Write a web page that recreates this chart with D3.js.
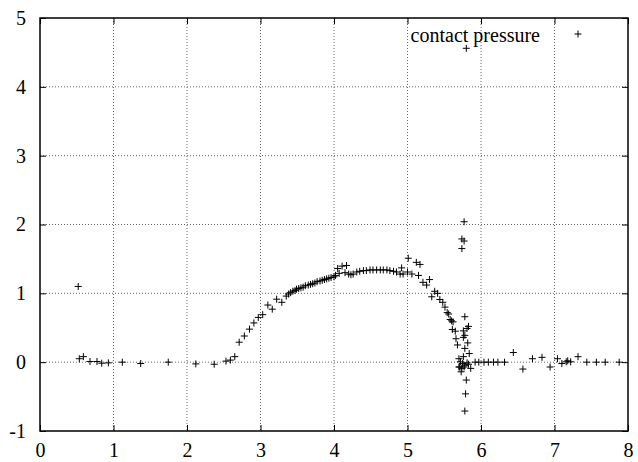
<!DOCTYPE html>
<html><head><meta charset="utf-8">
<script src="https://cdn.jsdelivr.net/npm/d3@7"></script>
<style>
body{margin:0;background:#fff;}
svg text{font-family:'Liberation Serif','Times New Roman',serif;}
</style></head>
<body><svg id="c" width="638" height="462"></svg>
<script>
const xTicks=[0,1,2,3,4,5,6,7,8];
const yTicks=[-1,0,1,2,3,4,5];
const seriesName="contact pressure";
const xs=[0.52,0.535,0.59,0.68,0.775,0.84,0.93,1.12,1.37,1.745,2.12,2.37,2.53,2.59,2.65,2.71,
2.78,2.85,2.91,2.97,3.03,3.10,3.16,3.22,3.29,3.35,
3.38,3.41,3.44,3.47,3.49,3.52,3.55,3.58,3.61,3.65,3.68,3.71,3.74,3.77,3.81,3.84,3.87,3.90,3.93,3.96,4.00,4.02,
4.05,4.11,4.17,4.07,4.15,4.20,4.23,4.26,4.31,4.35,4.40,4.44,4.49,4.53,4.58,4.63,4.67,4.72,4.76,4.81,4.85,
4.92,4.90,4.94,5.00,5.06,5.15,5.01,5.12,5.17,5.21,5.26,5.30,5.33,5.37,5.41,5.44,5.48,5.51,5.54,
5.56,5.58,5.60,5.62,5.61,5.65,5.66,5.68,5.70,5.71,
5.77,5.74,5.77,5.74,5.80,
5.78,5.83,5.81,5.76,5.78,5.76,5.82,5.78,5.84,5.76,
5.72,5.75,5.78,5.81,5.70,5.74,5.77,5.83,5.86,5.73,5.80,5.79,5.78,
5.92,5.97,6.04,6.10,6.17,6.23,6.32,6.44,6.57,6.70,6.83,6.94,7.04,7.10,7.16,7.18,7.22,7.32,7.44,7.57,7.69,7.88];
const ys=[1.10,0.05,0.08,0.01,0.01,-0.015,-0.01,0.0,-0.02,0.0,-0.025,-0.03,0.015,0.03,0.08,0.29,
0.38,0.48,0.57,0.65,0.69,0.83,0.77,0.915,0.87,0.96,
0.99,1.01,1.03,1.04,1.06,1.07,1.08,1.09,1.11,1.12,1.13,1.14,1.15,1.17,1.18,1.19,1.20,1.21,1.22,1.23,1.24,1.26,
1.36,1.395,1.405,1.29,1.30,1.28,1.27,1.28,1.31,1.32,1.33,1.33,1.34,1.34,1.34,1.34,1.34,1.34,1.33,1.32,1.31,
1.37,1.28,1.28,1.31,1.28,1.26,1.51,1.45,1.42,1.16,1.12,1.20,0.95,1.03,1.00,0.91,0.87,0.80,0.72,
0.70,0.62,0.60,0.585,0.475,0.45,0.34,0.25,0.05,-0.07,
2.04,1.79,1.76,1.65,4.56,
0.66,0.52,0.49,0.455,0.39,0.36,0.28,0.20,0.125,0.08,
0.005,-0.02,-0.045,-0.01,-0.07,-0.09,-0.07,-0.03,-0.09,-0.14,-0.26,-0.46,-0.71,
0.0,0.0,0.0,0.0,0.0,0.0,0.0,0.14,-0.10,0.05,0.07,-0.07,0.05,-0.02,0.005,0.02,0.005,0.08,0.0,0.0,0.0,0.0];

const svg=d3.select("#c");
const L=40,R=628,T=18,B=431;
const x=d3.scaleLinear().domain([0,8]).range([L,R]);
const y=d3.scaleLinear().domain([-1,5]).range([B,T]);
const fs=20;
const FF="'Liberation Serif','Times New Roman',serif";
const fmt=d=>String(d);

// grid
const g=svg.append("g");
g.selectAll("line.gx").data(xTicks.slice(1,-1)).join("line")
 .attr("x1",d=>x(d)).attr("x2",d=>x(d)).attr("y1",T).attr("y2",B)
 .attr("stroke","#666").attr("stroke-width",1).attr("stroke-dasharray","1,2");
g.selectAll("line.gy").data(yTicks.slice(1,-1)).join("line")
 .attr("y1",d=>y(d)).attr("y2",d=>y(d)).attr("x1",L).attr("x2",R)
 .attr("stroke","#666").attr("stroke-width",1).attr("stroke-dasharray","1,2");

// axes
function styleAxis(sel){sel.select(".domain").remove();
 sel.attr("font-family",FF).attr("font-size",fs);
 sel.selectAll("line").attr("stroke","#000").attr("stroke-width",1);
 sel.selectAll("text").style("font-size",fs+"px").attr("fill","#000").style("font-family",FF);}
svg.append("g").attr("transform",`translate(0,${B})`)
 .call(d3.axisBottom(x).tickValues(xTicks).tickSize(-6).tickPadding(12).tickFormat(fmt)).call(styleAxis);
svg.append("g").attr("transform",`translate(0,${T})`)
 .call(d3.axisTop(x).tickValues(xTicks).tickSize(-6).tickFormat("")).call(styleAxis);
svg.append("g").attr("transform",`translate(${L},0)`)
 .call(d3.axisLeft(y).tickValues(yTicks).tickSize(-6).tickPadding(14).tickFormat(fmt)).call(styleAxis);
svg.append("g").attr("transform",`translate(${R},0)`)
 .call(d3.axisRight(y).tickValues(yTicks).tickSize(-6).tickFormat("")).call(styleAxis);

// border
svg.append("rect").attr("x",L).attr("y",T).attr("width",R-L).attr("height",B-T)
 .attr("fill","none").attr("stroke","#000").attr("stroke-width",1.5);

// points
const pts=xs.map((v,i)=>({x:v,y:ys[i]}));
const s=3.5;
const plus=d=>`M${x(d.x)-s},${y(d.y)}H${x(d.x)+s}M${x(d.x)},${y(d.y)-s}V${y(d.y)+s}`;
svg.append("g").selectAll("path").data(pts).join("path")
 .attr("d",plus).attr("stroke","#000").attr("stroke-width",1).attr("fill","none");

// legend
svg.append("text").attr("x",540).attr("y",42).attr("text-anchor","end")
 .style("font-size",fs+"px").style("font-family",FF).attr("fill","#000").text(seriesName);
svg.append("path").attr("d",`M${578-s},34H${578+s}M578,${34-s}V${34+s}`)
 .attr("stroke","#000").attr("stroke-width",1);
</script></body></html>
